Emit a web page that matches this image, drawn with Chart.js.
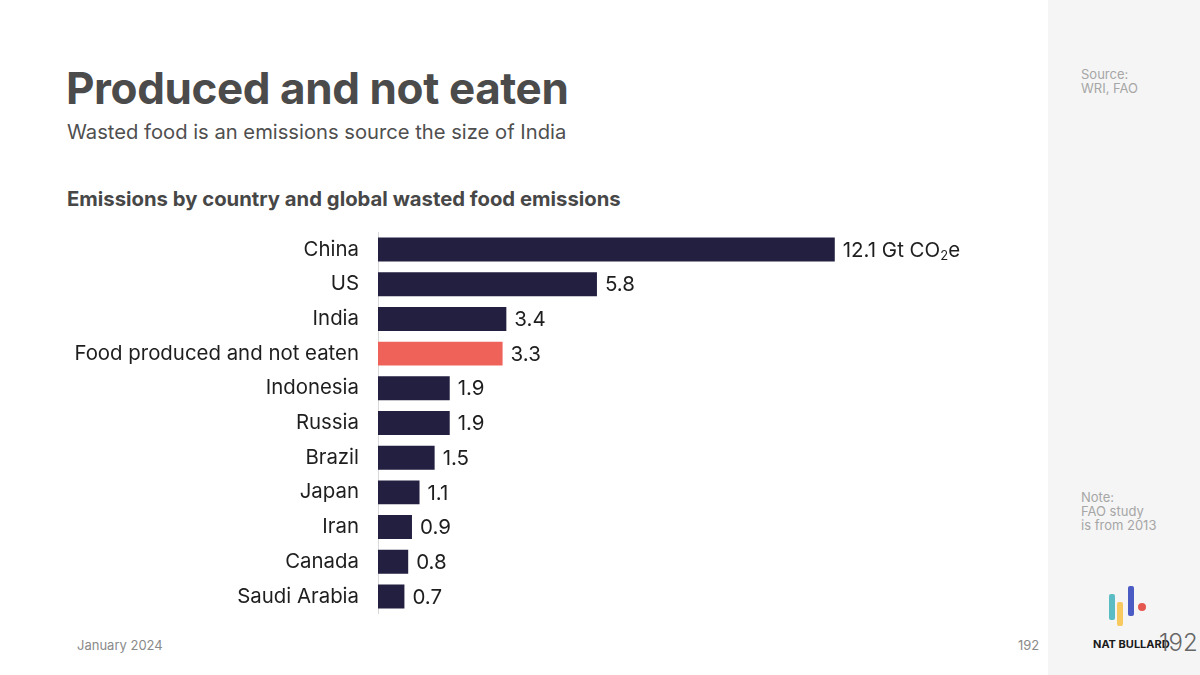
<!DOCTYPE html>
<html>
<head>
<meta charset="utf-8">
<script src="https://cdn.jsdelivr.net/npm/chart.js@4.4.1/dist/chart.umd.min.js"></script>
<style>
  html, body { margin:0; padding:0; }
  body { width:1200px; height:675px; position:relative; background:#fff; font-family:Inter, "Noto Sans", sans-serif; overflow:hidden; }
  .side { position:absolute; left:1048px; top:0; width:152px; height:675px; background:#f5f5f5; }
  .t { position:absolute; white-space:nowrap; }
  #title { left:66px; top:61px; font-size:44px; font-weight:700; color:#4b4b4b; letter-spacing:-0.4px; }
  #sub { left:67px; top:119px; font-size:20.2px; color:#4f4f4f; }
  #ctitle { left:67px; top:186px; font-size:20.3px; font-weight:700; color:#474747; }
  .foot { font-size:13px; color:#8a8a8a; top:637px; }
  .note { font-size:13px; color:#a6a6a6; line-height:14px; left:1081px; }
  #wrap { position:absolute; left:0; top:201px; width:982px; height:444px; }
</style>
</head>
<body>
<div class="side"></div>
<div class="t" id="title">Produced and not eaten</div>
<div class="t" id="sub">Wasted food is an emissions source the size of India</div>
<div class="t" id="ctitle">Emissions by country and global wasted food emissions</div>
<div class="t foot" style="left:77px">January 2024</div>
<div class="t foot" style="left:1018px">192</div>
<div class="t note" style="top:67px">Source:<br>WRI, FAO</div>
<div class="t note" style="top:490px">Note:<br>FAO study<br>is from 2013</div>
<svg style="position:absolute;left:1100px;top:580px" width="50" height="50">
  <rect x="9" y="14" width="6" height="26" rx="2" fill="#5bbcc4"/>
  <rect x="17" y="22" width="6" height="24" rx="2" fill="#f7c95e"/>
  <rect x="28" y="6" width="6" height="30" rx="2" fill="#4b5bc4"/>
  <circle cx="42" cy="27" r="4" fill="#e5584f"/>
</svg>
<div class="t" style="left:1093px;top:637px;font-size:11px;font-weight:700;color:#1a1a1a">NAT BULLARD</div>
<div class="t" style="left:1159px;top:628px;font-size:24px;font-weight:300;color:#666">192</div>
<div id="wrap"><canvas id="chart"></canvas></div>
<script>
const categories = ['China','US','India','Food produced and not eaten','Indonesia','Russia','Brazil','Japan','Iran','Canada','Saudi Arabia'];
const values = [12.1, 5.8, 3.4, 3.3, 1.9, 1.9, 1.5, 1.1, 0.9, 0.8, 0.7];
const highlight = 'Food produced and not eaten';

const navy = '#221f41';
const red = '#ef625a';
const fontFam = 'Inter, "Noto Sans", sans-serif';

const valueLabels = {
  id: 'valueLabels',
  afterDatasetsDraw(chart) {
    const ctx = chart.ctx;
    const meta = chart.getDatasetMeta(0);
    ctx.save();
    ctx.fillStyle = '#1e1e1e';
    ctx.textBaseline = 'middle';
    ctx.textAlign = 'left';
    meta.data.forEach((bar, i) => {
      let x = bar.x + 8;
      const y = bar.y + 1;
      ctx.font = '20.5px ' + fontFam;
      if (i === 0) {
        const a = values[i] + ' Gt CO';
        ctx.fillText(a, x, y);
        x += ctx.measureText(a).width;
        ctx.font = '13px ' + fontFam;
        ctx.fillText('2', x, y + 6);
        x += ctx.measureText('2').width;
        ctx.font = '20.5px ' + fontFam;
        ctx.fillText('e', x, y);
      } else {
        ctx.fillText(values[i].toFixed(1), x, y);
      }
    });
    ctx.restore();
  }
};

new Chart(document.getElementById('chart').getContext('2d'), {
  type: 'bar',
  data: {
    labels: categories,
    datasets: [{
      data: values,
      backgroundColor: categories.map(c => c === highlight ? red : navy),
      barPercentage: 0.69,
      categoryPercentage: 1
    }]
  },
  options: {
    indexAxis: 'y',
    responsive: true,
    maintainAspectRatio: false,
    animation: false,
    layout: { padding: 0 },
    plugins: { legend: { display: false }, tooltip: { enabled: false } },
    scales: {
      x: { display: false, min: 0, max: 16 },
      y: {
        afterFit(scale) { scale.width = 378; },
        grid: { color: 'transparent', drawTicks: false },
        border: { display: true, color: '#d9d9d9', width: 1 },
        ticks: { color: '#1e1e1e', padding: 19, font: { size: 20.4, family: fontFam } }
      }
    }
  },
  plugins: [valueLabels]
});
</script>
</body>
</html>
